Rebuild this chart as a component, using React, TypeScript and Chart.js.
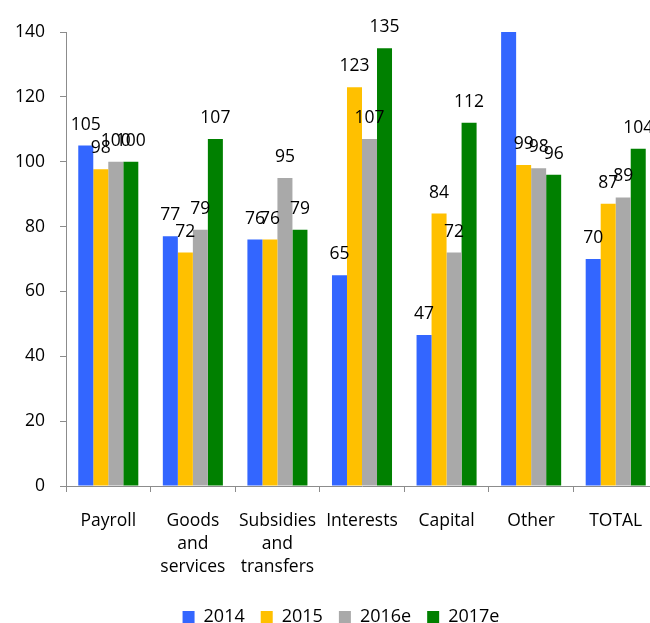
import React, { useEffect, useRef } from "react";
import { Chart, registerables } from "chart.js";

Chart.register(...registerables);

const categories: (string | string[])[] = [
  "Payroll",
  ["Goods", "and", "services"],
  ["Subsidies", "and", "transfers"],
  "Interests",
  "Capital",
  "Other",
  "TOTAL",
];
const seriesNames = ["2014", "2015", "2016e", "2017e"];
const values2014 = [105, 77, 76, 65, 46.6, 150, 70];
const values2015 = [97.7, 72, 76, 123, 84, 99, 87];
const values2016 = [100, 79, 95, 107, 72, 98, 89];
const values2017 = [100, 107, 79, 135, 112, 96, 104];
const seriesColors = ["#3366FF", "#FFC000", "#A9A9A9", "#008000"];
const yMax = 140;
const yStep = 20;

const FONT = "'Open Sans', sans-serif";
const FONT_SIZE = 17.5;
const AXIS_COLOR = "#8C8C8C";

const valueLabels = {
  id: "valueLabels",
  afterDatasetsDraw(chart: any) {
    const ctx = chart.ctx;
    ctx.save();
    ctx.font = `${FONT_SIZE}px ${FONT}`;
    ctx.fillStyle = "#000";
    ctx.textAlign = "center";
    ctx.textBaseline = "alphabetic";
    chart.data.datasets.forEach((ds: any, i: number) => {
      const meta = chart.getDatasetMeta(i);
      meta.data.forEach((bar: any, j: number) => {
        const v = ds.data[j];
        if (v > yMax) return;
        ctx.fillText(String(Math.round(v)), bar.x, bar.y - 16);
      });
    });
    ctx.restore();
  },
};

export default function App() {
  const ref = useRef<HTMLCanvasElement | null>(null);
  useEffect(() => {
    if (!ref.current) return;
    const allValues = [values2014, values2015, values2016, values2017];
    const chart = new Chart(ref.current, {
      type: "bar",
      data: {
        labels: categories,
        datasets: allValues.map((vals, i) => ({
          label: seriesNames[i],
          data: vals,
          backgroundColor: seriesColors[i],
          borderWidth: 0,
          categoryPercentage: 0.71,
          barPercentage: 1,
          yAxisID: "y",
        })),
      },
      options: {
        responsive: false,
        animation: false,
        layout: { padding: { left: 0, right: 0, top: 32, bottom: 0 } },
        font: { family: FONT, size: FONT_SIZE } as any,
        scales: {
          x: {
            grid: {
              display: true,
              drawOnChartArea: false,
              drawTicks: true,
              tickLength: 6,
              color: AXIS_COLOR,
              offset: true,
            },
            border: { color: AXIS_COLOR, width: 1 },
            ticks: {
              color: "#000",
              font: { family: FONT, size: FONT_SIZE, lineHeight: 1.31 },
              maxRotation: 0,
              minRotation: 0,
              autoSkip: false,
              padding: 18,
            },
            afterFit(scale: any) {
              scale.height = 106;
            },
          },
          y: {
            min: 0,
            max: yMax,
            ticks: {
              stepSize: yStep,
              color: "#000",
              font: { family: FONT, size: FONT_SIZE },
              padding: 15,
            },
            grid: {
              display: true,
              drawOnChartArea: false,
              drawTicks: true,
              tickLength: 6,
              color: AXIS_COLOR,
            },
            border: { color: AXIS_COLOR, width: 1 },
            afterFit(scale: any) {
              scale.width = 66;
            },
          },
          spacer: {
            type: "linear",
            position: "right",
            display: true,
            min: 0,
            max: yMax,
            grid: { display: false, drawTicks: false },
            border: { display: false },
            ticks: { display: false },
            afterFit(scale: any) {
              scale.width = 24;
            },
          },
        },
        plugins: {
          legend: {
            position: "bottom",
            labels: {
              boxWidth: 12,
              boxHeight: 12,
              padding: 16,
              color: "#000",
              font: { family: FONT, size: 18 },
            },
          },
          tooltip: { enabled: false },
        },
      },
      plugins: [valueLabels],
    });
    return () => chart.destroy();
  }, []);

  return (
    <div
      style={{
        position: "fixed",
        left: 0,
        top: 0,
        width: 650,
        height: 623,
        overflow: "hidden",
        background: "#fff",
      }}
    >
      <canvas ref={ref} width={682} height={636} style={{ display: "block" }} />
    </div>
  );
}
